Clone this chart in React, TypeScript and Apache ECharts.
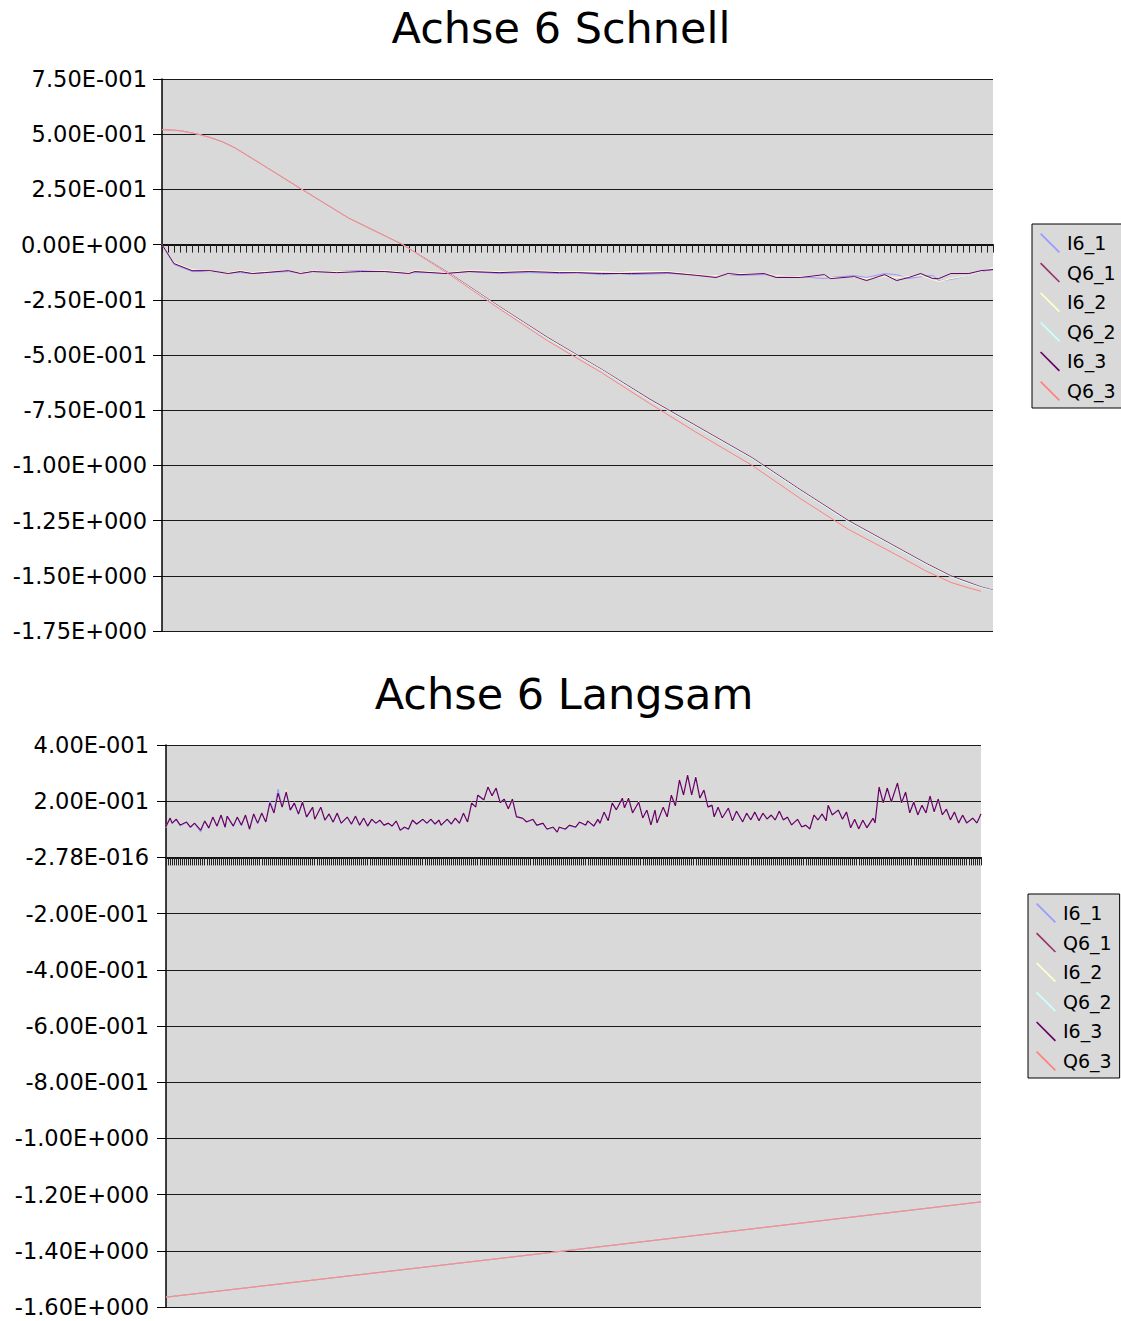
import React, { useEffect, useRef } from "react";
import * as echarts from "echarts";

const NAMES = ["I6_1", "Q6_1", "I6_2", "Q6_2", "I6_3", "Q6_3"];
const COLORS = ["#9999ff", "#993366", "#ffffcc", "#ccffff", "#660066", "#ff8080"];

const TOP_TITLE = "Achse 6 Schnell";
const BOTTOM_TITLE = "Achse 6 Langsam";

const TOP_MIN = -1.75, TOP_MAX = 0.75, TOP_STEP = 0.25, TOP_N = 138;
const BOT_MIN = -1.6, BOT_MAX = 0.4, BOT_STEP = 0.2, BOT_N = 400;

const TOP_Y_LABELS = ["-1.75E+000", "-1.50E+000", "-1.25E+000", "-1.00E+000", "-7.50E-001", "-5.00E-001", "-2.50E-001", "0.00E+000", "2.50E-001", "5.00E-001", "7.50E-001"];
const BOT_Y_LABELS = ["-1.60E+000", "-1.40E+000", "-1.20E+000", "-1.00E+000", "-8.00E-001", "-6.00E-001", "-4.00E-001", "-2.00E-001", "-2.78E-016", "2.00E-001", "4.00E-001"];

// ---- top chart (Schnell) ----
const TOP_I_X = [0, 2, 5, 8, 11, 13, 15, 17, 21, 23, 25, 29, 33, 37, 41, 42, 47, 51, 56, 61, 66, 69, 73, 76, 78, 84, 89, 92, 94, 96, 100, 102, 106, 110, 111, 115, 117, 120, 122, 124, 126, 128, 129, 131, 134, 136, 138];
const TOP_I6_1 = [0, -0.09, -0.122, -0.122, -0.127, -0.127, -0.131, -0.127, -0.122, -0.127, -0.118, -0.122, -0.118, -0.122, -0.127, -0.127, -0.127, -0.122, -0.131, -0.127, -0.131, -0.127, -0.136, -0.131, -0.136, -0.131, -0.136, -0.14, -0.136, -0.14, -0.136, -0.14, -0.145, -0.154, -0.149, -0.14, -0.149, -0.131, -0.136, -0.154, -0.145, -0.14, -0.163, -0.158, -0.14, -0.122, -0.113];
const TOP_I6_2 = [0, -0.082, -0.113, -0.122, -0.127, -0.118, -0.127, -0.122, -0.118, -0.127, -0.118, -0.122, -0.122, -0.118, -0.127, -0.118, -0.127, -0.118, -0.122, -0.118, -0.122, -0.122, -0.122, -0.127, -0.122, -0.122, -0.136, -0.14, -0.136, -0.131, -0.131, -0.14, -0.145, -0.14, -0.149, -0.149, -0.154, -0.145, -0.149, -0.145, -0.14, -0.158, -0.167, -0.154, -0.14, -0.122, -0.104];
const TOP_I6_3 = [0, -0.086, -0.118, -0.118, -0.131, -0.122, -0.131, -0.127, -0.118, -0.131, -0.122, -0.127, -0.122, -0.122, -0.131, -0.122, -0.131, -0.122, -0.127, -0.122, -0.127, -0.127, -0.131, -0.131, -0.131, -0.127, -0.14, -0.149, -0.131, -0.136, -0.131, -0.149, -0.149, -0.136, -0.154, -0.145, -0.163, -0.136, -0.163, -0.149, -0.131, -0.154, -0.154, -0.131, -0.131, -0.118, -0.113];

const TOP_Q_X = [0, 3, 6, 8, 10, 12, 15, 23, 31, 40, 48, 56, 64, 73, 81, 89, 98, 106, 114, 123, 127, 131, 134, 136, 138];
const TOP_Q6_1 = [0.521, 0.516, 0.5, 0.485, 0.466, 0.44, 0.39, 0.254, 0.12, 0.0, -0.135, -0.28, -0.42, -0.565, -0.7, -0.825, -0.965, -1.11, -1.25, -1.385, -1.445, -1.5, -1.53, -1.55, -1.565];
const TOP_Q6_2 = [0.521, 0.516, 0.5, 0.485, 0.466, 0.44, 0.39, 0.254, 0.12, 0.0, -0.137, -0.283, -0.424, -0.568, -0.705, -0.83, -0.97, -1.115, -1.255, -1.39, -1.45, -1.505, -1.535, -1.553, -1.567];
const TOP_Q6_3 = [0.521, 0.516, 0.5, 0.485, 0.466, 0.44, 0.39, 0.254, 0.12, 0.0, -0.14, -0.29, -0.435, -0.58, -0.72, -0.855, -1.0, -1.15, -1.29, -1.42, -1.48, -1.53, -1.555, -1.57];

// ---- bottom chart (Langsam) ----
const BOT_I_X = [0, 2, 3, 5, 7, 10, 12, 14, 17, 19, 21, 23, 25, 27, 29, 30, 33, 35, 37, 39, 41, 43, 45, 47, 49, 51, 53, 55, 57, 59, 61, 63, 65, 67, 69, 72, 73, 76, 78, 80, 82, 84, 86, 89, 91, 93, 95, 97, 99, 101, 103, 105, 107, 109, 111, 113, 115, 117, 119, 121, 123, 126, 128, 130, 132, 134, 135, 138, 140, 142, 144, 146, 148, 150, 152, 153, 156, 158, 160, 162, 164, 166, 168, 170, 172, 175, 177, 180, 182, 185, 187, 190, 192, 193, 196, 198, 201, 203, 206, 207, 210, 212, 213, 215, 217, 219, 221, 224, 225, 227, 229, 232, 234, 236, 238, 240, 241, 244, 246, 248, 250, 252, 254, 256, 258, 260, 262, 264, 266, 268, 269, 271, 273, 276, 278, 280, 283, 285, 287, 289, 291, 293, 295, 297, 299, 301, 303, 305, 307, 310, 312, 314, 316, 318, 320, 322, 324, 325, 327, 330, 332, 334, 336, 338, 340, 342, 344, 347, 348, 350, 352, 354, 356, 359, 361, 363, 365, 367, 369, 371, 373, 375, 377, 379, 381, 383, 385, 387, 389, 391, 393, 396, 398, 400];
const BOT_I6_1 = [0.112, 0.138, 0.12, 0.133, 0.112, 0.124, 0.105, 0.12, 0.09, 0.128,
  0.103, 0.142, 0.11, 0.149, 0.106, 0.145, 0.11, 0.142, 0.112, 0.149,
  0.1, 0.152, 0.12, 0.156, 0.128, 0.2, 0.165, 0.243, 0.18, 0.228,
  0.166, 0.19, 0.152, 0.194, 0.142, 0.176, 0.138, 0.176, 0.131, 0.152,
  0.124, 0.155, 0.12, 0.142, 0.117, 0.145, 0.113, 0.138, 0.11, 0.133,
  0.12, 0.13, 0.113, 0.12, 0.11, 0.128, 0.095, 0.105, 0.099, 0.13,
  0.117, 0.133, 0.12, 0.133, 0.117, 0.13, 0.113, 0.133, 0.117, 0.138,
  0.12, 0.155, 0.128, 0.19, 0.18, 0.218, 0.208, 0.248, 0.222, 0.244,
  0.198, 0.205, 0.176, 0.205, 0.148, 0.138, 0.128, 0.134, 0.113, 0.12,
  0.099, 0.106, 0.092, 0.106, 0.099, 0.112, 0.106, 0.124, 0.113, 0.128,
  0.11, 0.133, 0.12, 0.158, 0.133, 0.19, 0.172, 0.208, 0.179, 0.208,
  0.162, 0.194, 0.143, 0.165, 0.118, 0.165, 0.125, 0.176, 0.147, 0.218,
  0.186, 0.272, 0.225, 0.29, 0.226, 0.283, 0.214, 0.236, 0.182, 0.183,
  0.147, 0.176, 0.143, 0.172, 0.133, 0.162, 0.129, 0.155, 0.136, 0.158,
  0.133, 0.155, 0.138, 0.148, 0.135, 0.162, 0.136, 0.141, 0.118, 0.133,
  0.11, 0.113, 0.103, 0.148, 0.135, 0.152, 0.133, 0.183, 0.154, 0.166,
  0.138, 0.158, 0.108, 0.133, 0.104, 0.13, 0.108, 0.137, 0.125, 0.247,
  0.197, 0.243, 0.2, 0.261, 0.197, 0.229, 0.162, 0.193, 0.154, 0.182,
  0.161, 0.215, 0.165, 0.204, 0.154, 0.169, 0.136, 0.158, 0.125, 0.148,
  0.125, 0.137, 0.125, 0.152];
const BOT_I6_2 = [0.106, 0.142, 0.124, 0.138, 0.118, 0.128, 0.111, 0.124, 0.1, 0.132,
  0.108, 0.146, 0.115, 0.153, 0.111, 0.149, 0.115, 0.146, 0.118, 0.153,
  0.104, 0.157, 0.125, 0.16, 0.13, 0.19, 0.162, 0.225, 0.183, 0.24,
  0.172, 0.198, 0.158, 0.2, 0.147, 0.182, 0.139, 0.182, 0.136, 0.158,
  0.129, 0.161, 0.125, 0.147, 0.122, 0.15, 0.118, 0.143, 0.115, 0.139,
  0.125, 0.136, 0.118, 0.125, 0.115, 0.133, 0.1, 0.111, 0.104, 0.136,
  0.122, 0.139, 0.125, 0.139, 0.122, 0.136, 0.118, 0.139, 0.122, 0.143,
  0.125, 0.162, 0.129, 0.198, 0.176, 0.226, 0.2, 0.258, 0.216, 0.25,
  0.19, 0.212, 0.168, 0.212, 0.141, 0.143, 0.123, 0.139, 0.118, 0.125,
  0.104, 0.111, 0.093, 0.111, 0.104, 0.118, 0.111, 0.129, 0.118, 0.133,
  0.115, 0.139, 0.125, 0.165, 0.127, 0.198, 0.166, 0.215, 0.173, 0.214,
  0.155, 0.2, 0.137, 0.172, 0.112, 0.172, 0.119, 0.182, 0.141, 0.225,
  0.18, 0.279, 0.219, 0.296, 0.219, 0.289, 0.208, 0.243, 0.176, 0.19,
  0.141, 0.182, 0.137, 0.179, 0.127, 0.168, 0.123, 0.161, 0.13, 0.165,
  0.127, 0.161, 0.133, 0.154, 0.13, 0.168, 0.13, 0.147, 0.112, 0.139,
  0.105, 0.118, 0.098, 0.154, 0.13, 0.158, 0.127, 0.189, 0.148, 0.172,
  0.133, 0.165, 0.102, 0.139, 0.098, 0.136, 0.102, 0.143, 0.119, 0.255,
  0.191, 0.251, 0.194, 0.268, 0.191, 0.237, 0.155, 0.2, 0.148, 0.19,
  0.155, 0.222, 0.159, 0.211, 0.148, 0.175, 0.13, 0.165, 0.119, 0.154,
  0.119, 0.143, 0.119, 0.158];
const BOT_I6_3 = [0.109, 0.14, 0.122, 0.136, 0.115, 0.126, 0.108, 0.122, 0.097, 0.13,
  0.105, 0.144, 0.112, 0.151, 0.108, 0.147, 0.112, 0.144, 0.115, 0.151,
  0.101, 0.155, 0.122, 0.158, 0.126, 0.194, 0.158, 0.229, 0.179, 0.233,
  0.169, 0.194, 0.155, 0.197, 0.144, 0.179, 0.136, 0.179, 0.133, 0.155,
  0.126, 0.158, 0.122, 0.144, 0.119, 0.147, 0.115, 0.14, 0.112, 0.136,
  0.122, 0.133, 0.115, 0.122, 0.112, 0.13, 0.097, 0.108, 0.101, 0.133,
  0.119, 0.136, 0.122, 0.136, 0.119, 0.133, 0.115, 0.136, 0.119, 0.14,
  0.122, 0.158, 0.126, 0.194, 0.179, 0.222, 0.204, 0.251, 0.219, 0.247,
  0.194, 0.208, 0.172, 0.208, 0.144, 0.14, 0.126, 0.136, 0.115, 0.122,
  0.101, 0.108, 0.09, 0.108, 0.101, 0.115, 0.108, 0.126, 0.115, 0.13,
  0.112, 0.136, 0.122, 0.162, 0.13, 0.194, 0.169, 0.211, 0.176, 0.211,
  0.158, 0.197, 0.14, 0.169, 0.115, 0.169, 0.122, 0.179, 0.144, 0.222,
  0.183, 0.276, 0.222, 0.293, 0.222, 0.286, 0.211, 0.24, 0.179, 0.186,
  0.144, 0.179, 0.14, 0.176, 0.13, 0.165, 0.126, 0.158, 0.133, 0.162,
  0.13, 0.158, 0.136, 0.151, 0.133, 0.165, 0.133, 0.144, 0.115, 0.136,
  0.108, 0.115, 0.101, 0.151, 0.133, 0.155, 0.13, 0.186, 0.151, 0.169,
  0.136, 0.162, 0.105, 0.136, 0.101, 0.133, 0.105, 0.14, 0.122, 0.251,
  0.194, 0.247, 0.197, 0.265, 0.194, 0.233, 0.158, 0.197, 0.151, 0.186,
  0.158, 0.219, 0.162, 0.208, 0.151, 0.172, 0.133, 0.162, 0.122, 0.151,
  0.122, 0.14, 0.122, 0.155];

const BOT_Q_X = [0, 196, 400];
const BOT_Q6_1 = [-1.565, -1.4, -1.226];
const BOT_Q6_2 = [-1.565, -1.4, -1.226];
const BOT_Q6_3 = [-1.565, -1.4, -1.226];

const FONT = "DejaVu Sans";

function pairs(xs: number[], ys: number[]) {
  const n = Math.min(xs.length, ys.length);
  const out: number[][] = [];
  for (let i = 0; i < n; i++) out.push([xs[i], ys[i]]);
  return out;
}

function makeLegend(left: number, top: number) {
  return {
    orient: "vertical",
    left,
    top,
    padding: [9, 8, 7, 8],
    itemWidth: 20,
    itemHeight: 20,
    itemGap: 9.6,
    icon: "path://M0,0.6L0.6,0L10,9.4L9.4,10Z",
    backgroundColor: "#d9d9d9",
    borderColor: "#000",
    borderWidth: 1,
    selectedMode: false,
    textStyle: { fontSize: 19, color: "#000", fontFamily: FONT, padding: [0, 0, 0, 2] },
    data: NAMES,
  };
}

function makeXAxis(gridIndex: number, max: number) {
  return {
    type: "value",
    gridIndex,
    min: 0,
    max,
    interval: 1,
    axisLabel: { show: false },
    splitLine: { show: false },
    axisTick: { show: true, length: 8, lineStyle: { color: "#222", width: 1 } },
    axisLine: { show: true, onZero: true, lineStyle: { color: "#111", width: 2 } },
  };
}

function makeYAxis(gridIndex: number, min: number, max: number, step: number, labels: string[], margin: number) {
  return {
    type: "value",
    gridIndex,
    min,
    max,
    interval: step,
    axisLine: { show: true, lineStyle: { color: "#000", width: 1.5 } },
    axisTick: { show: true, length: 9, lineStyle: { color: "#000", width: 1 } },
    splitLine: { show: true, lineStyle: { color: "#1a1a1a", width: 1 } },
    axisLabel: {
      margin,
      fontSize: 22.5,
      color: "#000",
      fontFamily: FONT,
      formatter: (v: number) => labels[Math.round((v - min) / step)] ?? "",
    },
  };
}

export default function App() {
  const ref = useRef<HTMLDivElement>(null);
  useEffect(() => {
    if (!ref.current) return;
    const chart = echarts.init(ref.current, undefined, { renderer: "svg" });

    const topData = [
      pairs(TOP_I_X, TOP_I6_1),
      pairs(TOP_Q_X, TOP_Q6_1),
      pairs(TOP_I_X, TOP_I6_2),
      pairs(TOP_Q_X, TOP_Q6_2),
      pairs(TOP_I_X, TOP_I6_3),
      pairs(TOP_Q_X, TOP_Q6_3),
    ];
    const botData = [
      pairs(BOT_I_X, BOT_I6_1),
      pairs(BOT_Q_X, BOT_Q6_1),
      pairs(BOT_I_X, BOT_I6_2),
      pairs(BOT_Q_X, BOT_Q6_2),
      pairs(BOT_I_X, BOT_I6_3),
      pairs(BOT_Q_X, BOT_Q6_3),
    ];

    const series: any[] = [];
    NAMES.forEach((name, i) => {
      series.push({
        name,
        type: "line",
        xAxisIndex: 0,
        yAxisIndex: 0,
        data: topData[i],
        showSymbol: false,
        symbol: "none",
        lineStyle: { color: COLORS[i], width: 1 },
        itemStyle: { color: COLORS[i] },
        z: 3,
      });
    });
    NAMES.forEach((name, i) => {
      series.push({
        name,
        type: "line",
        xAxisIndex: 1,
        yAxisIndex: 1,
        data: botData[i],
        showSymbol: false,
        symbol: "none",
        lineStyle: { color: COLORS[i], width: name === "I6_3" ? 1.2 : 1 },
        itemStyle: { color: COLORS[i] },
        z: 3,
      });
    });

    const titleStyle = (text: string) => ({
      text,
      fill: "#000",
      font: `43px "${FONT}"`,
      textAlign: "center",
      textVerticalAlign: "middle",
      align: "center",
      verticalAlign: "middle",
    });

    chart.setOption({
      animation: false,
      backgroundColor: "#ffffff",
      textStyle: { fontFamily: FONT },
      graphic: [
        { type: "text", x: 561, y: 28, style: titleStyle(TOP_TITLE) },
        { type: "text", x: 564, y: 694, style: titleStyle(BOTTOM_TITLE) },
      ],
      legend: [makeLegend(1032, 224), makeLegend(1028, 894)],
      grid: [
        { left: 162, top: 79, width: 831, height: 552, show: true, backgroundColor: "#d9d9d9", borderWidth: 0 },
        { left: 166, top: 745, width: 815, height: 562, show: true, backgroundColor: "#d9d9d9", borderWidth: 0 },
      ],
      xAxis: [makeXAxis(0, TOP_N), makeXAxis(1, BOT_N)],
      yAxis: [
        makeYAxis(0, TOP_MIN, TOP_MAX, TOP_STEP, TOP_Y_LABELS, 15),
        makeYAxis(1, BOT_MIN, BOT_MAX, BOT_STEP, BOT_Y_LABELS, 17),
      ],
      series,
    });

    return () => chart.dispose();
  }, []);

  return (
    <div
      ref={ref}
      style={{ position: "absolute", left: 0, top: 0, width: 1121, height: 1321 }}
    />
  );
}
